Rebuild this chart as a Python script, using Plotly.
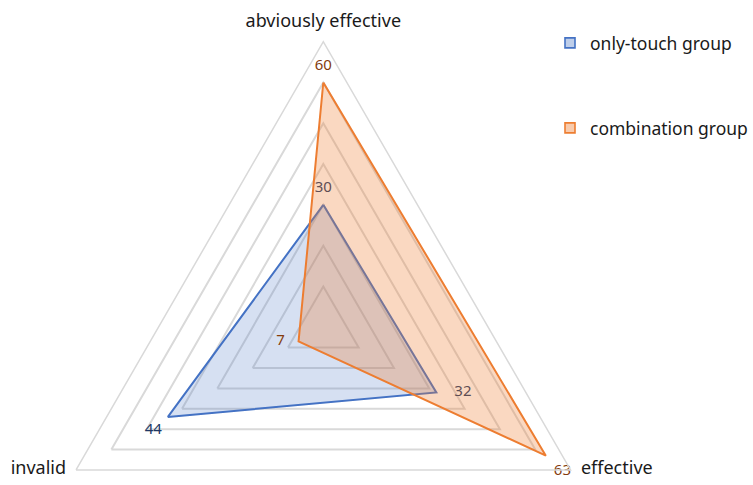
import plotly.graph_objects as go

# Radar categories, clockwise from the top
CATEGORIES = ["abviously effective", "effective", "invalid"]

# Series values, same order as CATEGORIES
SERIES_NAMES = ["only-touch group", "combination group"]
ONLY_TOUCH = [30, 32, 44]
COMBINATION = [60, 63, 7]

# Radial scale
R_MIN, R_MAX, R_STEP = 0, 70, 10

FONT = "Noto Sans"
TEXT = "#1A1A1A"
BLUE, BLUE_DARK, BLUE_FILL = "#4472C4", "#203864", "rgba(68,114,196,0.22)"
ORANGE, ORANGE_DARK, ORANGE_FILL = "#ED7D31", "#843C0C", "rgba(237,125,49,0.30)"
GRID = "#D9D9D9"

W, H = 753, 620
CX, CY, RAD = 323.3, 327.2, 285.5   # pixel centre and radius of the radar


def closed(values):
    return list(values) + list(values[:1])


def labels(values):
    return [str(v) for v in values] + [""]


def hidden_markers(sizes):
    # transparent markers: their size only sets the gap between a vertex and its text
    return dict(size=sizes, color="rgba(0,0,0,0)", opacity=0, line=dict(width=0))


fig = go.Figure()

# Data polygons with value labels
series = [
    (SERIES_NAMES[0], ONLY_TOUCH, BLUE, BLUE_DARK, BLUE_FILL,
     ["top center", "middle right", "bottom left", "top center"], [13.4, 27.2, 8, 0]),
    (SERIES_NAMES[1], COMBINATION, ORANGE, ORANGE_DARK, ORANGE_FILL,
     ["top center", "bottom right", "middle left", "top center"], [12.4, 11.2, 20.2, 0]),
]
for name, vals, line_c, text_c, fill_c, tpos, gap in series:
    fig.add_trace(go.Scatterpolar(
        r=closed(vals),
        theta=closed(CATEGORIES),
        name=name,
        mode="lines+markers+text",
        fill="toself",
        fillcolor=fill_c,
        line=dict(color=line_c, width=2),
        marker=hidden_markers(gap),
        text=labels(vals),
        textposition=tpos,
        textfont=dict(family=FONT, size=15, color=text_c),
        showlegend=False,
        hoverinfo="r+theta+name",
    ))

# Category names just outside the outer grid triangle
fig.add_trace(go.Scatterpolar(
    r=[R_MAX] * len(CATEGORIES),
    theta=CATEGORIES,
    mode="markers+text",
    marker=hidden_markers([15.2, 15, 14.4]),
    text=CATEGORIES,
    textposition=["top center", "middle right", "middle left"],
    textfont=dict(family=FONT, size=18, color=TEXT),
    cliponaxis=False,
    showlegend=False,
    hoverinfo="skip",
))

# Legend entries (square swatches), one legend box per series
swatches = [(SERIES_NAMES[0], BLUE, "rgba(68,114,196,0.35)", "legend"),
            (SERIES_NAMES[1], ORANGE, "rgba(237,125,49,0.40)", "legend2")]
for name, line_c, fill_c, leg in swatches:
    fig.add_trace(go.Scatterpolar(
        r=[None], theta=[CATEGORIES[0]],
        name=name, mode="markers",
        marker=dict(symbol="square", size=10, color=fill_c,
                    line=dict(color=line_c, width=1.6)),
        legend=leg, showlegend=True, hoverinfo="skip",
    ))

legend_style = dict(
    font=dict(family=FONT, size=17.5, color=TEXT),
    bgcolor="rgba(0,0,0,0)", borderwidth=0,
    xanchor="left", yanchor="middle", itemwidth=30,
    x=550 / W,
)

fig.update_layout(
    width=W, height=H,
    margin=dict(l=0, r=0, t=0, b=0, autoexpand=False),
    paper_bgcolor="white",
    showlegend=True,
    legend=dict(legend_style, y=1 - 43 / H),
    legend2=dict(legend_style, y=1 - 128 / H),
    polar=dict(
        domain=dict(x=[(CX - RAD) / W, (CX + RAD) / W],
                    y=[1 - (CY + RAD) / H, 1 - (CY - RAD) / H]),
        bgcolor="white",
        gridshape="linear",
        radialaxis=dict(
            range=[R_MIN, R_MAX], dtick=R_STEP, tick0=R_MIN,
            showticklabels=False, ticks="", showline=False,
            gridcolor=GRID, gridwidth=1.5,
        ),
        angularaxis=dict(
            rotation=90, direction="clockwise",
            categoryorder="array", categoryarray=CATEGORIES,
            showgrid=False, ticks="", showticklabels=False,
            showline=True, linecolor=GRID, linewidth=1.5,
        ),
    ),
)

fig.write_html(
    "out.html",
    config={"displayModeBar": False},
    post_script="document.documentElement.style.overflow='hidden';"
                "document.body.style.overflow='hidden';",
)
